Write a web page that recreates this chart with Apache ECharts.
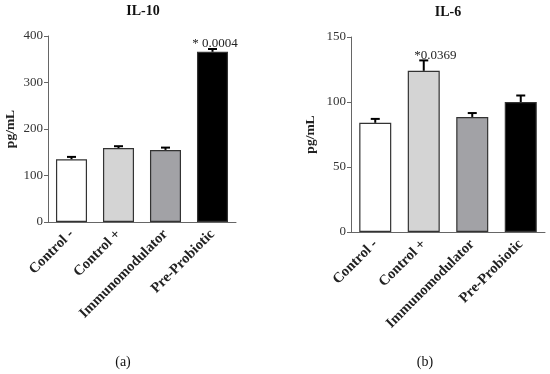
<!DOCTYPE html>
<html><head><meta charset="utf-8">
<script src="https://cdn.jsdelivr.net/npm/echarts@6/dist/echarts.min.js"></script>
<style>html,body{margin:0;padding:0;background:#fff}#c{width:550px;height:374px}</style>
</head><body><div id="c"></div>
<script>
const categories = ['Control -', 'Control +', 'Immunomodulator', 'Pre-Probiotic'];
const il10Values = [135, 159, 155, 366];
const il10Errors = [5, 4, 5, 6];
const il10Notes = ['', '', '', '* 0.0004'];
const il6Values = [84, 124, 88.5, 100];
const il6Errors = [3, 8, 3, 5];
const il6Notes = ['', '*0.0369', '', ''];
const il10Ticks = {min: 0, max: 400, interval: 100};
const il6Ticks = {min: 0, max: 150, interval: 50};
const barColors = ['#ffffff', '#d4d4d4', '#a2a2a6', '#000000'];

const FONT = 'Liberation Serif';
const chart = echarts.init(document.getElementById('c'));

function errSeries(idx, values, errors, notes, noteDx) {
  return {
    type: 'custom', xAxisIndex: idx, yAxisIndex: idx, z: 5,
    data: values.map((v, i) => [i, v, v + errors[i]]),
    renderItem: function (params, api) {
      const base = api.coord([api.value(0), api.value(1)]);
      const top = api.coord([api.value(0), api.value(2)]);
      const note = notes[params.dataIndex];
      const children = [
        {type: 'line', shape: {x1: base[0], y1: base[1], x2: top[0], y2: top[1]}, style: {stroke: '#000', lineWidth: 2}},
        {type: 'line', shape: {x1: top[0] - 4.5, y1: top[1], x2: top[0] + 4.5, y2: top[1]}, style: {stroke: '#000', lineWidth: 2}}
      ];
      if (note) {
        children.push({type: 'text', style: {text: note, x: top[0] + noteDx, y: top[1] - 5, align: 'center', verticalAlign: 'middle', font: '13px "' + FONT + '"', fill: '#222'}});
      }
      return {type: 'group', children: children};
    }
  };
}

function barSeries(idx, values) {
  return {
    type: 'bar', xAxisIndex: idx, yAxisIndex: idx, barWidth: '66%',
    data: values.map((v, i) => ({value: v, itemStyle: {color: barColors[i], borderColor: '#333', borderWidth: 1.2}}))
  };
}

function xAxis(idx) {
  return {
    type: 'category', gridIndex: idx, data: categories,
    axisLine: {lineStyle: {color: '#666', width: 1}},
    axisTick: {alignWithLabel: true, length: 4, lineStyle: {color: '#666'}},
    axisLabel: {rotate: 45, interval: 0, fontFamily: FONT, fontWeight: 'bold', fontSize: 14.5, color: '#222', margin: 10}
  };
}
function yAxis(idx, t, gap) {
  return {
    type: 'value', gridIndex: idx, min: t.min, max: t.max, interval: t.interval,
    name: 'pg/mL', nameLocation: 'middle', nameGap: gap, nameRotate: 90,
    nameTextStyle: {fontFamily: FONT, fontWeight: 'bold', fontSize: 13.5, color: '#222'},
    axisLine: {show: true, lineStyle: {color: '#666', width: 1}},
    axisTick: {show: true, length: 4, lineStyle: {color: '#666'}},
    splitLine: {show: false},
    axisLabel: {fontFamily: FONT, fontSize: 13, color: '#333', margin: 5}
  };
}

chart.setOption({
  animation: false,
  backgroundColor: '#fff',
  grid: [
    {left: 48, top: 36, width: 188, height: 186},
    {left: 351, top: 37, width: 194, height: 195}
  ],
  xAxis: [xAxis(0), xAxis(1)],
  yAxis: [yAxis(0, il10Ticks, 30), yAxis(1, il6Ticks, 33)],
  series: [
    barSeries(0, il10Values), errSeries(0, il10Values, il10Errors, il10Notes, 2.5),
    barSeries(1, il6Values), errSeries(1, il6Values, il6Errors, il6Notes, 11.5)
  ],
  graphic: [
    {type: 'text', x: 143, y: 11, style: {text: 'IL-10', align: 'center', verticalAlign: 'middle', font: 'bold 14px "' + FONT + '"', fill: '#111'}},
    {type: 'text', x: 448, y: 12, style: {text: 'IL-6', align: 'center', verticalAlign: 'middle', font: 'bold 14px "' + FONT + '"', fill: '#111'}},
    {type: 'text', x: 123, y: 362, style: {text: '(a)', align: 'center', verticalAlign: 'middle', font: '14px "' + FONT + '"', fill: '#111'}},
    {type: 'text', x: 425, y: 362, style: {text: '(b)', align: 'center', verticalAlign: 'middle', font: '14px "' + FONT + '"', fill: '#111'}}
  ]
});
</script></body></html>
